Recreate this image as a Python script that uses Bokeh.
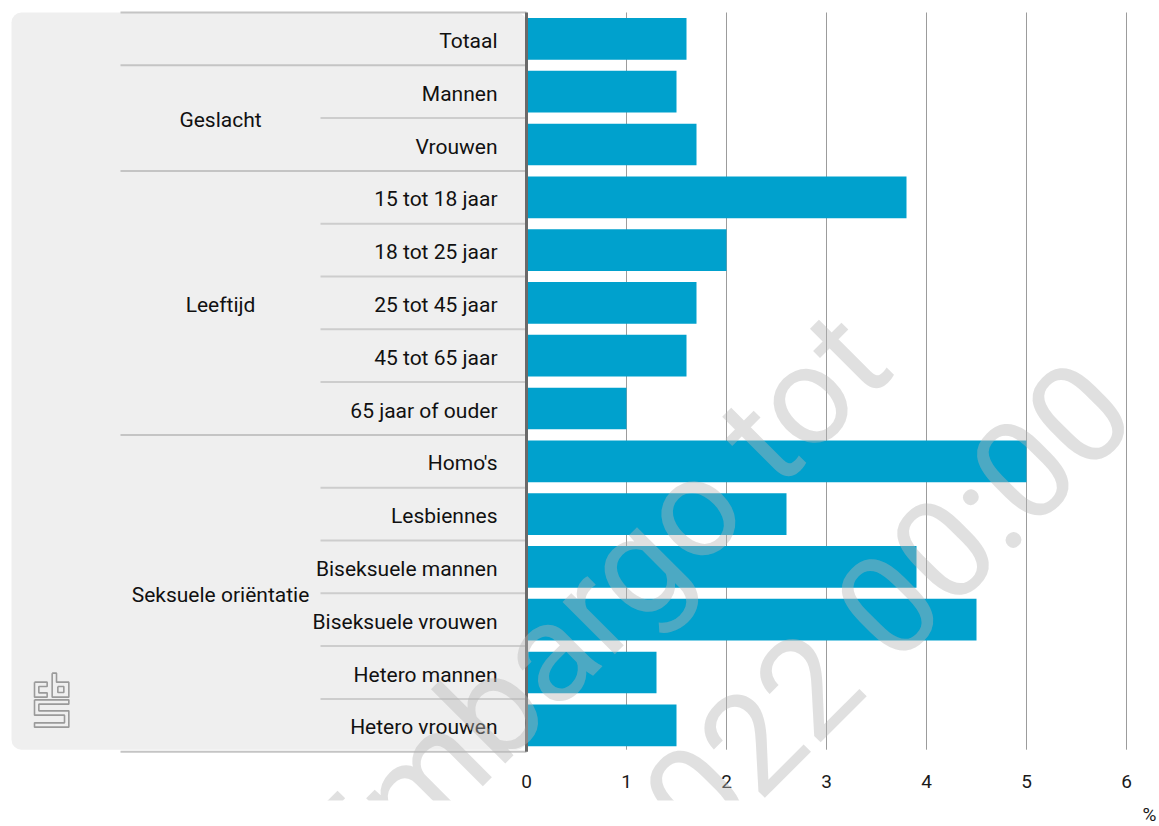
from bokeh.plotting import figure
from bokeh.models import Range1d, FixedTicker, BoxAnnotation, Label, Title
from bokeh.core.properties import value
from bokeh.embed import file_html
from bokeh.resources import INLINE

# ---------------- data ----------------
categories = [
    "Totaal",
    "Mannen", "Vrouwen",
    "15 tot 18 jaar", "18 tot 25 jaar", "25 tot 45 jaar", "45 tot 65 jaar", "65 jaar of ouder",
    "Homo's", "Lesbiennes", "Biseksuele mannen", "Biseksuele vrouwen", "Hetero mannen", "Hetero vrouwen",
]
groups = [
    "",
    "Geslacht", "Geslacht",
    "Leeftijd", "Leeftijd", "Leeftijd", "Leeftijd", "Leeftijd",
    "Seksuele oriëntatie", "Seksuele oriëntatie", "Seksuele oriëntatie",
    "Seksuele oriëntatie", "Seksuele oriëntatie", "Seksuele oriëntatie",
]
values = [1.6, 1.5, 1.7, 3.8, 2.0, 1.7, 1.6, 1.0, 5.0, 2.6, 3.9, 4.5, 1.3, 1.5]
xticks = [0, 1, 2, 3, 4, 5, 6]
unit_label = "%"
watermark_lines = ["Embargo tot", "2022 00:00"]

# ---------------- layout helpers (page pixels -> data) ----------------
ROW_PX = 52.8
X_PX = 100.0
ZERO_PX = 526.0
TOP_PX = 12.0
FRAME_LEFT = 0
FRAME_TOP = 0
FRAME_H = 800
FRAME_W = 1159


def sx(px):
    return (px - ZERO_PX) / X_PX


def sy(py):
    return (py - TOP_PX) / ROW_PX - 0.5


n = len(categories)
idx = list(range(n))
FONT = "Roboto"

p = figure(
    frame_width=FRAME_W, frame_height=FRAME_H,
    x_range=Range1d(sx(FRAME_LEFT), sx(FRAME_LEFT + FRAME_W)),
    y_range=Range1d(sy(FRAME_TOP + FRAME_H), sy(FRAME_TOP)),
    output_backend="svg", toolbar_location=None, y_axis_location=None,
    min_border=0, min_border_left=0, min_border_right=0, min_border_top=0, min_border_bottom=0,
    outline_line_color=None, background_fill_color="white", border_fill_color="white",
)
p.grid.visible = False

# grey label panel
panel = BoxAnnotation(left=sx(11), right=0, top=-0.5, bottom=n - 0.5 - 2 / ROW_PX,
                      fill_color="#efefef", fill_alpha=1.0, line_color=None,
                      border_radius=10, level="underlay")
p.add_layout(panel)

# vertical gridlines
grid_x = [t for t in xticks if t != 0]
p.segment(x0=grid_x, y0=-0.5, x1=grid_x, y1=n - 0.5 - 2 / ROW_PX,
          line_color="#9c9c9c", line_width=1)

# separator lines
group_bounds = [-0.5] + [i + 0.5 for i in range(n - 1) if groups[i] != groups[i + 1]] + [n - 0.5]
inner_bounds = [i + 0.5 for i in range(n - 1) if groups[i] == groups[i + 1]]
p.segment(x0=sx(320), y0=inner_bounds, x1=0, y1=inner_bounds, line_color="#cdcdcd", line_width=2)
p.segment(x0=sx(120), y0=group_bounds, x1=0, y1=group_bounds, line_color="#c4c4c4", line_width=2)

# bars
p.hbar(y=idx, left=0, right=values, height=0.79, fill_color="#00a1cd", line_color=None)

# zero axis line
p.segment(x0=0, y0=-0.5, x1=0, y1=n - 0.5, line_color="#6a6a6a", line_width=3)

# category labels
p.text(x=sx(497), y=[i + 0.04 for i in idx], text=categories,
       text_align="right", text_baseline="middle",
       text_font=value(FONT), text_font_size="21px", text_color="#111111")

# group labels
gnames, gpos = [], []
for g in dict.fromkeys(groups):
    if not g:
        continue
    members = [i for i in idx if groups[i] == g]
    gnames.append(g)
    gpos.append(sum(members) / len(members) + 0.04)
p.text(x=sx(220), y=gpos, text=gnames, text_align="center", text_baseline="middle",
       text_font=value(FONT), text_font_size="21px", text_color="#111111")


# cbs logo (decorative outline)
def lp(pts):
    return [sx(20 + a / 3) for a, b in pts], [sy(660 + b / 3) for a, b in pts]


logo_c = [(42, 65), (80, 65), (80, 78), (55, 78), (55, 97), (80, 97), (80, 110), (42, 110), (42, 65)]
logo_b = [(95, 38), (108, 38), (108, 65), (145, 65), (145, 110), (95, 110), (95, 38)]
logo_bi = [(112, 78), (130, 78), (130, 96), (112, 96), (112, 78)]
logo_s = [(42, 118), (145, 118), (145, 131), (55, 131), (55, 151), (145, 151), (145, 200),
          (42, 200), (42, 187), (132, 187), (132, 164), (42, 164), (42, 118)]
xs, ys = [], []
for shape in (logo_c, logo_b, logo_bi, logo_s):
    a, b = lp(shape)
    xs.append(a)
    ys.append(b)
p.multi_line(xs=xs, ys=ys, line_color="#9a9a9a", line_width=1.6)

# x axis (labels drawn back up into the frame area so the frame can hold the watermark)
ax = p.xaxis[0]
ax.ticker = FixedTicker(ticks=xticks)
ax.axis_line_color = None
ax.major_tick_line_color = None
ax.minor_tick_line_color = None
ax.major_label_standoff = -32
ax.major_label_text_font = FONT
ax.major_label_text_font_size = "19px"
ax.major_label_text_color = "#1a1a1a"

p.add_layout(Title(text=unit_label, align="right", text_font=FONT, text_font_size="19px",
                   text_font_style="normal", text_color="#1a1a1a", standoff=0, offset=3), "below")

# watermark
for txt, (ex, ey) in zip(watermark_lines, [(863, 337), (1107, 387)]):
    p.add_layout(Label(x=sx(ex), y=sy(ey), text=txt, angle=45, angle_units="deg",
                       text_align="right", text_baseline="middle",
                       text_font=FONT, text_font_size="140px",
                       text_color="#b5b5b5", text_alpha=0.42))

open("out.html", "w").write(file_html(p, INLINE))
